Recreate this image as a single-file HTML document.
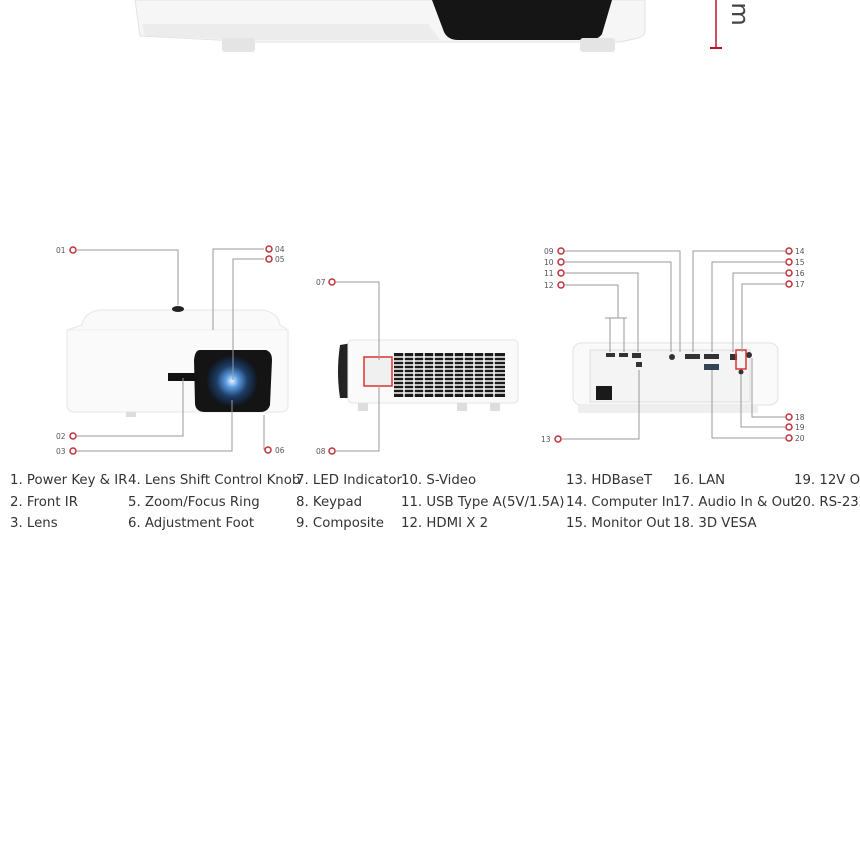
<!DOCTYPE html>
<html><head><meta charset="utf-8"><style>
html,body{margin:0;padding:0;background:#fff;}
body{width:860px;height:847px;position:relative;overflow:hidden;font-family:"DejaVu Sans","Liberation Sans",sans-serif;}
svg{position:absolute;left:0;top:0;}
.t{position:absolute;font-size:13.3px;color:#333;white-space:nowrap;line-height:16px;}
</style></head><body>
<svg width="860" height="847" viewBox="0 0 860 847">
<defs>
<radialGradient id="lg" cx="50%" cy="50%" r="50%">
<stop offset="0" stop-color="#e8f4ff"/><stop offset="0.25" stop-color="#5a9be0"/><stop offset="0.6" stop-color="#1d3c66"/><stop offset="1" stop-color="#101418"/></radialGradient>
</defs>
<path d="M135 0 H645 V30 Q645 36 638 38 L620 42 H600 L258 42 L140 36 Z" fill="#f6f6f6" stroke="#e2e2e2"/>
<path d="M142 24 H428 L440 40 H258 L145 36 Z" fill="#ececec"/>
<path d="M432 0 H612 L602 34 Q598 40 588 40 H458 Q448 40 444 32 Z" fill="#151515"/>
<rect x="222" y="38" width="33" height="14" rx="3" fill="#e4e4e4"/>
<rect x="580" y="38" width="35" height="14" rx="3" fill="#e4e4e4"/>
<line x1="716" y1="0" x2="716" y2="48" stroke="#c0122a" stroke-width="1.5"/>
<line x1="710" y1="48" x2="722" y2="48" stroke="#c0122a" stroke-width="2"/>
<text x="0" y="0" transform="translate(732,14) rotate(90)" font-family="DejaVu Sans,sans-serif" font-size="24" fill="#444" text-anchor="middle">m</text>

<g font-family="DejaVu Sans,sans-serif" font-size="7.5" fill="#555">
<path d="M82 325 Q84 312 100 310 H262 Q278 312 280 325 L288 330 V405 Q288 412 280 412 H75 Q67 412 67 405 V330 Z" fill="#fafafa" stroke="#e6e6e6"/>
<path d="M67 330 H288" stroke="#eee"/>
<ellipse cx="178" cy="309" rx="6" ry="3" fill="#222"/>
<rect x="168" y="373" width="28" height="8" fill="#111"/>
<path d="M200 350 H266 Q272 352 272 360 L270 405 Q268 412 260 412 H205 Q196 412 195 404 L194 360 Q195 350 200 350 Z" fill="#141414"/>
<circle cx="232" cy="381" r="26" fill="url(#lg)"/>
<rect x="126" y="412" width="10" height="5" fill="#ddd"/>
<g fill="none" stroke="#999" stroke-width="1">
<path d="M77 250 H178 V305"/><path d="M264 249 H213 V330"/><path d="M264 259 H233 V380"/>
<path d="M77 436 H183 V378"/><path d="M77 451 H232 V400"/><path d="M264 450 V415"/>
</g>
<g fill="#fff" stroke="#c0303a" stroke-width="1.5">
<circle cx="73" cy="250" r="3"/><circle cx="73" cy="436" r="3"/><circle cx="73" cy="451" r="3"/>
<circle cx="269" cy="249" r="3"/><circle cx="269" cy="259" r="3"/><circle cx="268" cy="450" r="3"/>
</g>
<text x="56" y="253">01</text><text x="56" y="439">02</text><text x="56" y="454">03</text>
<text x="275" y="252">04</text><text x="275" y="262">05</text><text x="275" y="453">06</text>

<path d="M340 345 Q336 372 340 398 H352 V343 Z" fill="#222"/>
<rect x="348" y="340" width="170" height="63" rx="4" fill="#fafafa" stroke="#e4e4e4"/>
<rect x="394" y="353" width="111" height="44" fill="#1a1a1a"/>
<g stroke="#fafafa" stroke-width="1.5">
<path d="M394 357H505M394 361H505M394 365H505M394 369H505M394 373H505M394 377H505M394 381H505M394 385H505M394 389H505M394 393H505"/>
<path d="M404 353V397M414 353V397M424 353V397M434 353V397M444 353V397M454 353V397M464 353V397M474 353V397M484 353V397M494 353V397"/>
</g>
<rect x="364" y="357" width="28" height="29" fill="#f0f0f0" stroke="#d33" stroke-width="1.5"/>
<rect x="358" y="403" width="10" height="8" fill="#ddd"/><rect x="457" y="403" width="10" height="8" fill="#ddd"/><rect x="490" y="403" width="10" height="8" fill="#ddd"/>
<g fill="none" stroke="#999"><path d="M336 282 H379 V360"/><path d="M336 451 H379 V386"/></g>
<g fill="#fff" stroke="#c0303a" stroke-width="1.5"><circle cx="332" cy="282" r="3"/><circle cx="332" cy="451" r="3"/></g>
<text x="316" y="285">07</text><text x="316" y="454">08</text>

<rect x="573" y="343" width="205" height="62" rx="8" fill="#fafafa" stroke="#e2e2e2"/>
<rect x="590" y="350" width="160" height="52" fill="#f4f4f4" stroke="#ddd"/>
<rect x="596" y="386" width="16" height="14" fill="#1a1a1a"/>
<rect x="578" y="405" width="180" height="8" fill="#eee"/>
<g fill="#333">
<rect x="606" y="353" width="9" height="4"/><rect x="619" y="353" width="9" height="4"/><rect x="632" y="353" width="9" height="5"/>
<rect x="636" y="362" width="6" height="5"/><circle cx="672" cy="357" r="3"/><rect x="685" y="354" width="15" height="5"/>
<rect x="704" y="354" width="15" height="5"/><rect x="704" y="364" width="15" height="6" fill="#345"/>
<rect x="730" y="354" width="7" height="6"/><circle cx="749" cy="355" r="3"/><circle cx="741" cy="372" r="2.5"/>
</g>
<rect x="736" y="350" width="10" height="19" fill="none" stroke="#d33" stroke-width="1.5"/>
<g fill="none" stroke="#999">
<path d="M565 251 H680 V352"/><path d="M565 262 H671 V352"/><path d="M565 273 H638 V352"/>
<path d="M565 285 H618 V318 M605 318 H627 M610 318 V352 M624 318 V352"/>
<path d="M562 439 H639 V370"/>
<path d="M785 251 H693 V352"/><path d="M785 262 H712 V352"/><path d="M785 273 H733 V352"/><path d="M785 284 H742 V352"/>
<path d="M785 417 H752 V358"/><path d="M785 427 H741 V375"/><path d="M785 438 H712 V370"/>
</g>
<g fill="#fff" stroke="#c0303a" stroke-width="1.5">
<circle cx="561" cy="251" r="3"/><circle cx="561" cy="262" r="3"/><circle cx="561" cy="273" r="3"/><circle cx="561" cy="285" r="3"/><circle cx="558" cy="439" r="3"/>
<circle cx="789" cy="251" r="3"/><circle cx="789" cy="262" r="3"/><circle cx="789" cy="273" r="3"/><circle cx="789" cy="284" r="3"/>
<circle cx="789" cy="417" r="3"/><circle cx="789" cy="427" r="3"/><circle cx="789" cy="438" r="3"/>
</g>
<text x="544" y="254">09</text><text x="544" y="265">10</text><text x="544" y="276">11</text><text x="544" y="288">12</text><text x="541" y="442">13</text>
<text x="795" y="254">14</text><text x="795" y="265">15</text><text x="795" y="276">16</text><text x="795" y="287">17</text>
<text x="795" y="420">18</text><text x="795" y="430">19</text><text x="795" y="441">20</text>
</g>
</svg>
<div class="t" style="left:10px;top:473px">1. Power Key &amp; IR</div>
<div class="t" style="left:128px;top:473px">4. Lens Shift Control Knob</div>
<div class="t" style="left:296px;top:473px">7. LED Indicator</div>
<div class="t" style="left:401px;top:473px">10. S-Video</div>
<div class="t" style="left:566px;top:473px">13. HDBaseT</div>
<div class="t" style="left:673px;top:473px">16. LAN</div>
<div class="t" style="left:794px;top:473px">19. 12V Out</div>
<div class="t" style="left:10px;top:495px">2. Front IR</div>
<div class="t" style="left:128px;top:495px">5. Zoom/Focus Ring</div>
<div class="t" style="left:296px;top:495px">8. Keypad</div>
<div class="t" style="left:401px;top:495px">11. USB Type A(5V/1.5A)</div>
<div class="t" style="left:566px;top:495px">14. Computer In</div>
<div class="t" style="left:673px;top:495px">17. Audio In &amp; Out</div>
<div class="t" style="left:794px;top:495px">20. RS-232</div>
<div class="t" style="left:10px;top:516px">3. Lens</div>
<div class="t" style="left:128px;top:516px">6. Adjustment Foot</div>
<div class="t" style="left:296px;top:516px">9. Composite</div>
<div class="t" style="left:401px;top:516px">12. HDMI X 2</div>
<div class="t" style="left:566px;top:516px">15. Monitor Out</div>
<div class="t" style="left:673px;top:516px">18. 3D VESA</div>
</body></html>
